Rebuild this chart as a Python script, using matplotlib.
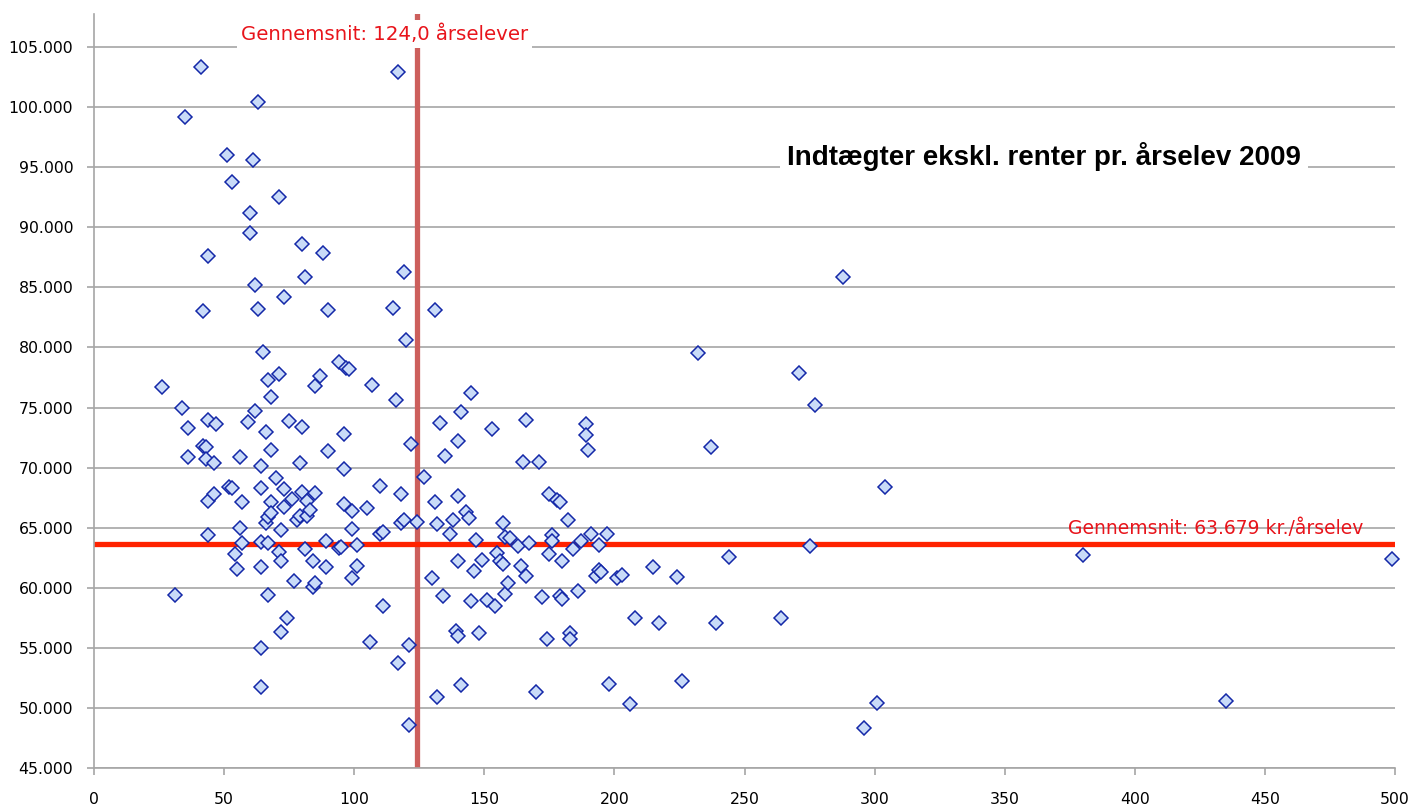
import matplotlib
matplotlib.use("Agg")
import matplotlib.pyplot as plt
from matplotlib.ticker import FuncFormatter

# årselever (x) vs indtægter ekskl. renter pr. årselev (y)
elever = [
    26, 31, 34, 35, 36, 36, 41, 42, 42, 43, 43, 44, 44, 44, 44, 46, 46, 47,
    51, 52, 53, 53, 54, 55, 56, 56, 57, 57, 59, 60, 60, 61, 62, 62, 63, 63,
    64, 64, 64, 64, 64, 64, 65, 66, 66, 67, 67, 67, 67, 68, 68, 68, 68, 70,
    71, 71, 71, 72, 72, 72, 73, 73, 73, 74, 75, 76, 77, 78, 79, 79, 80, 80,
    80, 81, 81, 82, 82, 83, 84, 84, 85, 85, 85, 87, 88, 89, 89, 90, 90, 94,
    94, 95, 96, 96, 96, 97, 98, 99, 99, 99, 101, 101, 105, 106, 107, 110, 110,
    111, 111, 115, 116, 117, 117, 118, 118, 119, 119, 120, 121, 121, 122, 124,
    127, 130, 131, 131, 132, 132, 133, 134, 135, 137, 138, 139, 140, 140, 140,
    140, 141, 141, 143, 144, 145, 145, 146, 147, 148, 149, 151, 153, 154, 155,
    156, 157, 157, 158, 158, 159, 160, 163, 164, 165, 166, 166, 167, 170, 171,
    172, 174, 175, 175, 176, 176, 178, 179, 179, 180, 180, 182, 183, 183, 184,
    186, 187, 189, 189, 190, 191, 193, 194, 194, 195, 197, 198, 201, 203, 206,
    208, 215, 217, 224, 226, 232, 237, 239, 244, 264, 271, 275, 277, 288, 296,
    301, 304, 380, 435, 499,
]
indtaegt = [
    76700, 59400, 75000, 99200, 73300, 70900, 103300, 83000, 71800, 71700, 70700,
    87600, 74000, 67200, 64400, 70400, 67800, 73600, 96000, 68400, 93800, 68300,
    62800, 61600, 70900, 65000, 67100, 63700, 73800, 89500, 91200, 95600, 85200,
    74700, 100400, 83200, 70100, 68300, 63800, 61700, 55000, 51700, 79600, 73000,
    65400, 77300, 59400, 63700, 65900, 75900, 71500, 67100, 66200, 69100, 77800,
    63000, 92500, 64800, 62200, 56300, 84200, 66700, 68200, 57500, 73900, 67400,
    60600, 65600, 66000, 70400, 88600, 68000, 73400, 85900, 63200, 67200, 66000,
    66500, 60100, 62200, 76800, 67900, 60400, 77600, 87900, 61700, 63900, 83100,
    71400, 78800, 63300, 63400, 72800, 69900, 67000, 78300, 78200, 66400, 64900,
    60800, 63600, 61800, 66600, 55500, 76900, 68500, 64500, 64600, 58500, 83300,
    75600, 102900, 53700, 67800, 65400, 65600, 86300, 80600, 55200, 48600, 72000,
    65500,
    69200, 60800, 67100, 83100, 65300, 50900, 73700, 59300, 71000, 64500, 65600,
    56400, 56000, 67600, 72200, 62200, 74600, 51900, 66300, 65800, 58900, 76200,
    61400, 64000, 56200, 62300, 59000, 73200, 58500, 62900, 62200, 62000, 65400,
    59500, 64200, 60400, 64100, 63500, 61800, 70500, 74000, 61000, 63700, 51300,
    70500, 59200, 55700, 67800, 62800, 64400, 63900, 67300, 67100, 59300, 59100,
    62200, 65600, 56200, 55700, 63200, 59700, 63900, 73600, 72700, 71500, 64500,
    61000, 61500, 63600, 61300, 64500, 52000, 60800, 61100, 50300, 57500, 61700,
    57100, 60900, 52200, 79500, 71700, 57100, 62600, 57500, 77900, 63500, 75200,
    85900, 48300, 50400, 68400, 62700, 50600, 62400,
]
snit_elever = 124.0
snit_indtaegt = 63679

fig = plt.figure(figsize=(14.12, 8.10), dpi=100)
ax = fig.add_axes([94 / 1412, 1 - 768 / 810, (1395 - 94) / 1412, (768 - 14) / 810])

GRAY = "#a6a6a6"
ax.set_xlim(0, 500)
ax.set_ylim(45000, 107750)
ax.set_xticks(range(0, 501, 50))
ax.set_yticks(range(45000, 105001, 5000))
ax.yaxis.set_major_formatter(FuncFormatter(lambda v, p: f"{int(v):,}".replace(",", ".")))
ax.grid(axis="y", color=GRAY, lw=1.2, zorder=0)
ax.set_axisbelow(True)
for s in ("top", "right"):
    ax.spines[s].set_visible(False)
for s in ("left", "bottom"):
    ax.spines[s].set_color(GRAY)
    ax.spines[s].set_linewidth(1.2)
ax.tick_params(axis="both", colors=GRAY, length=5, width=1.2, labelsize=11.3,
               labelcolor="black")
ax.tick_params(axis="x", pad=12)
ax.tick_params(axis="y", pad=10)

ax.axvline(snit_elever, color="#cc5f5c", lw=3.8, zorder=2)
ax.axhline(snit_indtaegt, color="#ff2200", lw=3.8, zorder=2)

ax.plot(elever, indtaegt, "D", ms=7.2, mfc="#c9dbf8", mec="#1428a8", mew=1.1,
        zorder=3, clip_on=False)

ax.text(56.5, 106100, "Gennemsnit: 124,0 årselever", color="#e8141b", fontsize=14.2,
        va="center", ha="left", zorder=4,
        bbox=dict(facecolor="white", edgecolor="none", pad=3))
ax.text(374.3, 64950, "Gennemsnit: 63.679 kr./årselev", color="#e8141b",
        fontsize=13.5, va="center", ha="left", zorder=4)
ax.text(266.3, 95900, "Indtægter ekskl. renter pr. årselev 2009", fontsize=20,
        fontweight="bold", family="Liberation Sans", va="center", ha="left",
        zorder=4, bbox=dict(facecolor="white", edgecolor="none", pad=5))

fig.savefig("out.png", dpi=100)
